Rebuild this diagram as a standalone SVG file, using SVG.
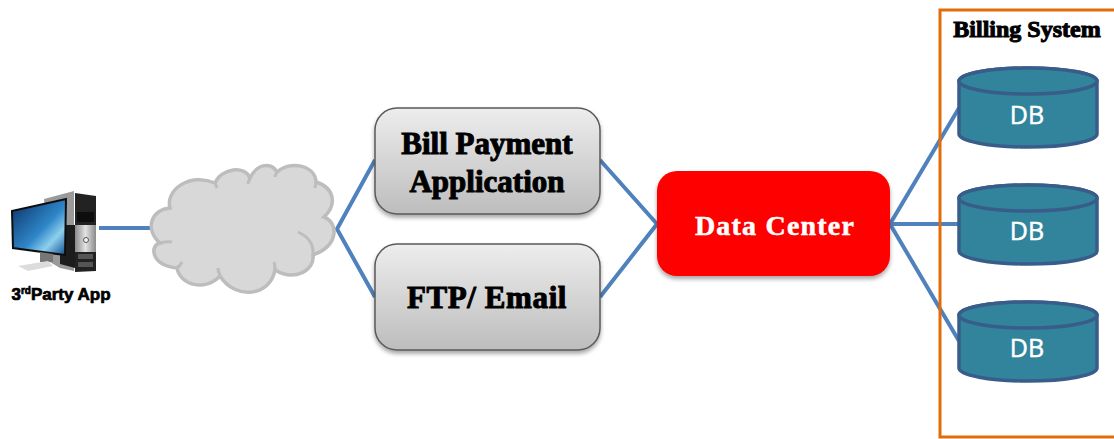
<svg xmlns="http://www.w3.org/2000/svg" width="1114" height="439" viewBox="0 0 1114 439">
<style>
.link{fill:none;stroke:#4f81bd;stroke-width:4}
.box{fill:url(#grey);stroke:#5a5a5a;stroke-width:1.5;filter:url(#shadow)}
.serif{font-family:"Liberation Serif","Times New Roman",serif;font-weight:bold;text-anchor:middle;fill:#000;stroke:#000;stroke-width:1}
.dbbody{fill:#31849b;stroke:#385d8a;stroke-width:3.5}
.dbtxt{font-family:"Open Sans","DejaVu Sans",sans-serif;font-size:25px;fill:#fff;stroke:#fff;stroke-width:.5;text-anchor:middle}
</style>
<defs>
<linearGradient id="grey" x1="0" y1="0" x2="0" y2="1"><stop offset="0" stop-color="#ededed"/><stop offset="1" stop-color="#bdbdbd"/></linearGradient>
<linearGradient id="screen" x1="0" y1="0" x2="1" y2="1"><stop offset="0" stop-color="#0b2f66"/><stop offset=".55" stop-color="#2f86c8"/><stop offset=".75" stop-color="#8ed0ee"/><stop offset="1" stop-color="#0d4a8c"/></linearGradient>
<linearGradient id="silver" x1="0" y1="0" x2="1" y2="0"><stop offset="0" stop-color="#8a8a8a"/><stop offset=".5" stop-color="#e2e2e2"/><stop offset="1" stop-color="#8a8a8a"/></linearGradient>
<filter id="shadow" x="-5%" y="-5%" width="110%" height="115%"><feDropShadow dx="0" dy="3" stdDeviation="2" flood-color="#000" flood-opacity=".35"/></filter>
<filter id="soft" x="-5%" y="-5%" width="110%" height="110%"><feGaussianBlur stdDeviation=".6"/></filter>
</defs>
<g id="connectors">
<path class="link" d="M99 228H151"/>
<path class="link" d="M375 160L337 229L375 297"/>
<path class="link" d="M600 160L657 224L600 297"/>
<path class="link" d="M959 108L890 224L959 341M890 224H959"/>
</g>
<g id="app">
<g filter="url(#soft)">
<path d="M44 199L74 191V271L60 268L50 262Z" fill="#9a9a9a"/>
<path d="M60 225H75V268L60 264Z" fill="#1d1d1d"/>
<path d="M75 193L96 196V271L75 272Z" fill="#232323"/>
<rect x="77" y="212" width="17" height="10" fill="#0c0c0c"/>
<path d="M75 225H96V252H75Z" fill="url(#silver)"/>
<circle cx="86" cy="240" r="2.500" fill="#f2f2f2" stroke="#555"/>
<rect x="78" y="254" width="15" height="5" fill="#555"/>
<rect x="78" y="262" width="15" height="5" fill="#555"/>
<path d="M12 211L66 199L65 255L13 248Z" fill="url(#screen)" stroke="#111" stroke-width="2"/>
<path d="M40 252L53 254V262H40Z" fill="#777"/>
<path d="M18 266L48 261L53 266L28 271Z" fill="#dcdcdc"/>
</g>
<text x="61" y="300" font-family="'Liberation Sans',Arial,sans-serif" font-size="17" font-weight="bold" text-anchor="middle" stroke="#000" stroke-width=".7">3<tspan font-size="10" dy="-6">rd</tspan><tspan dy="6">Party App</tspan></text>
</g>
<g id="cloud">
<path d="M170 208C165 190 190 172 215 183C222 168 245 165 250 178C258 162 272 163 277 172C290 160 315 165 316 182C335 188 337 205 324 217C338 222 340 245 313 255C315 270 295 282 275 270C270 297 235 300 220 276C205 292 180 285 177 268C150 265 150 245 160 243C145 230 150 210 170 208Z" fill="#d8d8d8" stroke="#bdbdbd" stroke-width="3.500"/>
<path d="M160 243C164 242 168 241 172 242M177 268C180 266 181 264 182 262M220 276C219 273 218 271 218 268M275 270C275 267 275 265 274 262M313 255C314 243 307 236 298 232M215 183C216 185 216 186 217 188M250 178C249 180 248 182 248 184M277 172C276 174 275 175 275 177M316 182C316 184 315 186 315 188" fill="none" stroke="#bdbdbd" stroke-width="3"/>
</g>
<g id="bill">
<rect class="box" x="375" y="108" width="225" height="106" rx="22"/>
<text class="serif" font-size="31" x="487" y="154">Bill Payment</text>
<text class="serif" font-size="31" x="487" y="192">Application</text>
</g>
<g id="ftp">
<rect class="box" x="375" y="244" width="225" height="106" rx="22"/>
<text class="serif" font-size="31" x="487" y="308" letter-spacing=".6">FTP/ Email</text>
</g>
<g id="datacenter">
<rect x="657" y="171" width="233" height="105" rx="20" fill="#ff0000" filter="url(#shadow)"/>
<text class="serif" font-size="28" x="775" y="235" letter-spacing="1.200" style="fill:#fff;stroke:#fff;stroke-width:.5">Data Center</text>
</g>
<g id="billing">
<rect x="940" y="10" width="176" height="427" fill="none" stroke="#e36c0a" stroke-width="3"/>
<text class="serif" font-size="24" x="1027" y="37">Billing System</text>
</g>
<g id="db1">
<path class="dbbody" d="M959 81V134A69 13 0 0 0 1097 134V81A69 13 0 0 0 959 81Z"/>
<ellipse class="dbbody" cx="1028" cy="81" rx="69" ry="13"/>
<text class="dbtxt" x="1027" y="124">DB</text>
</g>
<g id="db2">
<path class="dbbody" d="M959 198V251A69 13 0 0 0 1097 251V198A69 13 0 0 0 959 198Z"/>
<ellipse class="dbbody" cx="1028" cy="198" rx="69" ry="13"/>
<text class="dbtxt" x="1027" y="240">DB</text>
</g>
<g id="db3">
<path class="dbbody" d="M959 315V368A69 13 0 0 0 1097 368V315A69 13 0 0 0 959 315Z"/>
<ellipse class="dbbody" cx="1028" cy="315" rx="69" ry="13"/>
<text class="dbtxt" x="1027" y="357">DB</text>
</g>
</svg>
